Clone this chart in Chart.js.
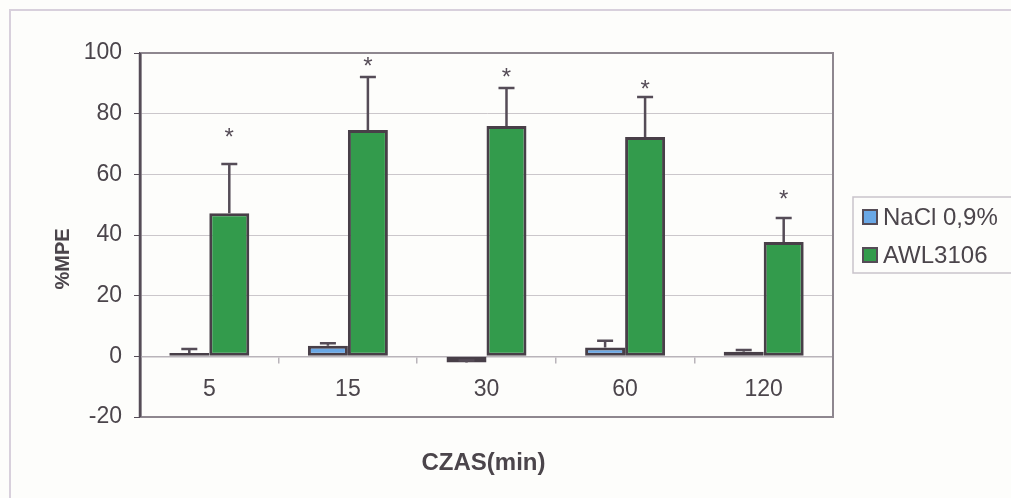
<!DOCTYPE html>
<html>
<head>
<meta charset="utf-8">
<script src="https://cdn.jsdelivr.net/npm/chart.js@4/dist/chart.umd.min.js"></script>
<style>
  html, body { margin: 0; padding: 0; background: #fdfdfb; }
  #wrap { width: 1011px; height: 498px; }
</style>
</head>
<body>
<div id="wrap"><canvas id="c" width="1011" height="498"></canvas></div>
<script>
// Time points (minutes) and %MPE means with upper SEM
const categories = ['5', '15', '30', '60', '120'];
const naclValues = [1.1, 3.5, -2.0, 2.9, 1.5];
const naclErrors = [1.3, 0.8, 0.6, 2.2, 0.6];
const awlValues  = [47.2, 74.6, 75.9, 72.3, 37.7];
const awlErrors  = [16.2, 17.5, 12.6, 13.2, 7.9];
// significance markers (level of the asterisk, in %MPE units)
const starLevels = [74.3, 97.6, 94.0, 90.0, 53.9];
const yTicks = [-20, 0, 20, 40, 60, 80, 100];

const TEXT = '#4b454b';
const DARK = '#554c57';
const FONT = '"Liberation Sans", Arial, sans-serif';

const errorBars = {
  id: 'errorBars',
  afterDatasetsDraw(chart) {
    const y = chart.scales.y;
    const ctx = chart.ctx;
    const errs = [naclErrors, awlErrors];
    ctx.save();
    ctx.strokeStyle = DARK;
    ctx.lineWidth = 2.5;
    chart.data.datasets.forEach((ds, i) => {
      const meta = chart.getDatasetMeta(i);
      meta.data.forEach((el, j) => {
        const v = ds.data[j];
        const e = errs[i][j];
        const y0 = y.getPixelForValue(v);
        const y1 = y.getPixelForValue(v + e);
        ctx.beginPath();
        ctx.moveTo(el.x, y0);
        ctx.lineTo(el.x, y1);
        ctx.moveTo(el.x - 8, y1);
        ctx.lineTo(el.x + 8, y1);
        ctx.stroke();
      });
    });
    // asterisks above the AWL3106 bars
    const meta = chart.getDatasetMeta(1);
    ctx.fillStyle = DARK;
    ctx.font = '24px ' + FONT;
    ctx.textAlign = 'center';
    ctx.textBaseline = 'alphabetic';
    meta.data.forEach((el, j) => {
      const py = y.getPixelForValue(starLevels[j]);
      ctx.fillText('*', el.x, py + 14);
    });
    ctx.restore();
  }
};

const decorations = {
  id: 'decorations',
  beforeDraw(chart) {
    const ctx = chart.ctx;
    ctx.save();
    ctx.fillStyle = '#fdfdfb';
    ctx.fillRect(0, 0, chart.width, chart.height);
    ctx.strokeStyle = '#d8d0dc';
    ctx.lineWidth = 2;
    ctx.beginPath();
    ctx.moveTo(10, chart.height);
    ctx.lineTo(10, 10);
    ctx.lineTo(chart.width, 10);
    ctx.stroke();
    ctx.restore();
  },
  beforeDatasetsDraw(chart) {
    const a = chart.chartArea;
    const ctx = chart.ctx;
    ctx.save();
    ctx.strokeStyle = '#8e878f';
    ctx.lineWidth = 2;
    ctx.beginPath();
    ctx.moveTo(a.left, a.top);
    ctx.lineTo(a.right, a.top);
    ctx.lineTo(a.right, a.bottom);
    ctx.lineTo(a.left, a.bottom);
    ctx.stroke();
    ctx.strokeStyle = DARK;
    ctx.lineWidth = 2.5;
    ctx.beginPath();
    ctx.moveTo(a.left, a.top);
    ctx.lineTo(a.left, a.bottom);
    ctx.stroke();
    ctx.restore();
  },
  afterDraw(chart) {
    const a = chart.chartArea;
    const ctx = chart.ctx;
    ctx.save();
    ctx.fillStyle = TEXT;
    // axis titles
    ctx.font = 'bold 24px ' + FONT;
    ctx.textAlign = 'center';
    ctx.textBaseline = 'middle';
    ctx.fillText('CZAS(min)', (a.left + a.right) / 2 - 3, 463);
    ctx.save();
    ctx.translate(63, 259);
    ctx.rotate(-Math.PI / 2);
    ctx.font = 'bold 20px ' + FONT;
    ctx.fillText('%MPE', 0, 0);
    ctx.restore();
    // legend box
    ctx.strokeStyle = '#c9c3cb';
    ctx.lineWidth = 1.5;
    ctx.strokeRect(853, 197, 165, 76);
    ctx.font = '24px ' + FONT;
    ctx.textAlign = 'left';
    ctx.textBaseline = 'middle';
    const rows = [217, 255];
    chart.data.datasets.forEach((ds, i) => {
      const cy = rows[i];
      ctx.fillStyle = ds.backgroundColor;
      ctx.fillRect(863, cy - 7, 14, 14);
      ctx.strokeStyle = DARK;
      ctx.lineWidth = 2;
      ctx.strokeRect(863, cy - 7, 14, 14);
      ctx.fillStyle = TEXT;
      ctx.fillText(ds.label, 883, cy + 1);
    });
    ctx.restore();
  }
};

new Chart(document.getElementById('c'), {
  type: 'bar',
  data: {
    labels: categories,
    datasets: [
      {
        label: 'NaCl 0,9%',
        data: naclValues,
        backgroundColor: '#6aa8e6',
        borderColor: '#483f48',
        borderWidth: 3,
        borderSkipped: false,
        categoryPercentage: 0.577,
        barPercentage: 1.0
      },
      {
        label: 'AWL3106',
        data: awlValues,
        backgroundColor: '#339b4c',
        borderColor: '#483f48',
        borderWidth: 3,
        borderSkipped: false,
        categoryPercentage: 0.577,
        barPercentage: 1.0
      }
    ]
  },
  options: {
    responsive: false,
    animation: false,
    devicePixelRatio: 1,
    layout: { padding: { left: 0, right: 178, top: 53, bottom: 81 } },
    plugins: { legend: { display: false }, tooltip: { enabled: false } },
    scales: {
      y: {
        min: -20,
        max: 100,
        afterFit(scale) { scale.width = 140; },
        afterBuildTicks(scale) { scale.ticks = yTicks.map(v => ({ value: v })); },
        ticks: { color: TEXT, font: { family: FONT, size: 23 }, padding: 12 },
        grid: { color: '#cbc7cb', lineWidth: 1, tickColor: DARK, tickLength: 6 },
        border: { color: DARK, width: 2.5 }
      },
      x: {
        position: { y: 0 },
        ticks: { color: TEXT, font: { family: FONT, size: 23 }, padding: 14 },
        grid: { offset: true, drawOnChartArea: false, color: '#b9b4ba', tickLength: 6, lineWidth: 1.5 },
        border: { color: '#b9b4ba', width: 1.5 }
      }
    }
  },
  plugins: [decorations, errorBars]
});
</script>
</body>
</html>
